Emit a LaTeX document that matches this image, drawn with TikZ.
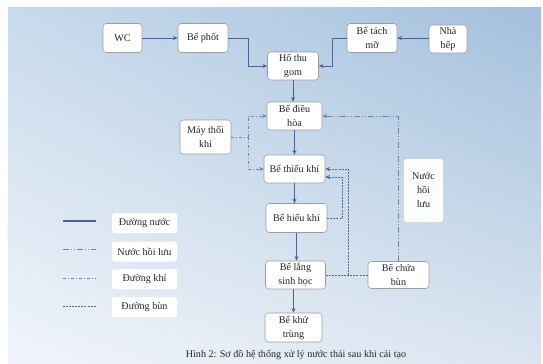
\documentclass[tikz,border=0pt]{standalone}
\usepackage{fontspec}
\setmainfont{Liberation Serif}
\usepackage{tikz}
\usetikzlibrary{arrows.meta,shadings}

\definecolor{flowblue}{HTML}{4D6290}
\definecolor{dashblue}{HTML}{6F82A8}
\definecolor{boxgray}{HTML}{9C9C9C}
\definecolor{bgtl}{HTML}{C8DAEC}
\definecolor{bgtr}{HTML}{A3BFDC}
\definecolor{bgbl}{HTML}{F1F5FA}
\definecolor{bgbr}{HTML}{DAE5F0}

\begin{document}
\begin{tikzpicture}[x=0.75pt,y=-0.75pt, >={Stealth[length=3.5pt,width=3pt]},
    tank/.style={draw=boxgray, fill=white, rounded corners=2.5pt, align=center, inner sep=0pt, text=black!85, font=\fontsize{7.6}{10.5}\selectfont},
    tag/.style={fill=white, rounded corners=2pt, align=center, inner sep=0pt, text=black!85, font=\fontsize{7.6}{10.5}\selectfont},
    water/.style={draw=flowblue, line width=0.6pt},
    ret/.style={draw=dashblue, line width=0.45pt, dash pattern=on 4.5pt off 1.5pt on 0.8pt off 1.5pt on 0.8pt off 1.5pt},
    air/.style={draw=dashblue, line width=0.45pt, dash pattern=on 2.2pt off 1.5pt on 0.8pt off 1.5pt},
    sludge/.style={draw=dashblue!80!black, line width=0.45pt, dash pattern=on 1.5pt off 0.8pt}]
    \useasboundingbox (0,0) rectangle (543,364);
    \shade[upper left=bgtl, upper right=bgtr, lower left=bgbl, lower right=bgbr] (8,7) rectangle (541,364);

    % treatment line
    \node[tank, minimum width=29.25pt, minimum height=21.75pt] (wc) at (122.5,38) {WC};
    \node[tank, minimum width=37.5pt, minimum height=21.75pt] (phot) at (203,38) {Bể phốt};
    \node[tank, minimum width=38.25pt, minimum height=21pt] (hothu) at (293,66) {Hố thu\\gom};
    \node[tank, minimum width=37.5pt, minimum height=21.75pt] (tachmo) at (372,38) {Bể tách\\mỡ};
    \node[tank, minimum width=28.5pt, minimum height=21pt] (nhabep) at (448,39) {Nhà\\bếp};
    \node[tank, minimum width=41.25pt, minimum height=21pt] (dieuhoa) at (294.5,116) {Bể điều\\hòa};
    \node[tank, minimum width=38.25pt, minimum height=25.5pt] (maythoi) at (205.5,137) {Máy thổi\\khí};
    \node[tank, minimum width=45.75pt, minimum height=21pt] (thieukhi) at (294.5,169) {Bể thiếu khí};
    \node[tank, minimum width=45.75pt, minimum height=21.75pt] (hieukhi) at (296.5,218) {Bể hiếu khí};
    \node[tank, minimum width=45pt, minimum height=21pt] (lang) at (295.5,275) {Bể lắng\\sinh học};
    \node[tank, minimum width=42.75pt, minimum height=21.75pt] (khutrung) at (293.5,327.5) {Bể khử\\trùng};
    \node[tank, minimum width=45.75pt, minimum height=20.25pt] (chuabun) at (398.5,275) {Bể chứa\\bùn};
    \node[tag, fill opacity=0.95, text opacity=1, minimum width=29.25pt, minimum height=47.25pt] (hoiluu) at (423.5,190.5) {Nước\\hồi\\lưu};

    % legend
    \node[tag, minimum width=48.75pt, minimum height=15pt] (lgwater) at (144.5,223) {Đường nước};
    \node[tag, minimum width=48.75pt, minimum height=15pt] (lgret) at (144.5,251.5) {Nước hồi lưu};
    \node[tag, minimum width=48.75pt, minimum height=15pt] (lgair) at (144.5,279) {Đường khí};
    \node[tag, minimum width=48.75pt, minimum height=15pt] (lgsludge) at (144.5,307) {Đường bùn};
    \coordinate (lw1) at (63,221);  \coordinate (lw2) at (96,221);
    \coordinate (lr1) at (63,249);  \coordinate (lr2) at (96,249);
    \coordinate (la1) at (63,278);  \coordinate (la2) at (96,278);
    \coordinate (ls1) at (63,306);  \coordinate (ls2) at (96,306);
    \draw[water, line width=0.9pt] (lw1) -- (lw2);
    \draw[ret] (lr1) -- (lr2);
    \draw[air] (la1) -- (la2);
    \draw[sludge] (ls1) -- (ls2);

    \node[font=\fontsize{7.6}{9}\selectfont, text=black!85] (caption) at (296,355) {Hình 2: Sơ đồ hệ thống xử lý nước thải sau khi cải tạo};

    % water
    \draw[water,->] (wc) -- (phot);
    \draw[water,->] (phot.east) -- ++(20,0) |- (hothu.west);
    \draw[water,->] (nhabep.west |- tachmo.east) -- (tachmo.east);
    \draw[water,->] (tachmo.west) -- ++(-14,0) |- (hothu.east);
    \draw[water,->] (hothu.south) -- (hothu.south |- dieuhoa.north);
    \draw[water,->] (dieuhoa.south) -- (dieuhoa.south |- thieukhi.north);
    \draw[water,->] (thieukhi.south) -- (thieukhi.south |- hieukhi.north);
    \draw[water,->] (hieukhi.south) -- (hieukhi.south |- lang.north);
    \draw[water,->] (khutrung.north |- lang.south) -- (khutrung.north);

    % air
    \coordinate (airjoin) at (248,137);
    \draw[air] (maythoi.east) -- (airjoin);
    \draw[air,->] (airjoin) |- (dieuhoa.west);
    \draw[air,->] (airjoin) |- (thieukhi.west);

    % return water
    \draw[ret,->] (chuabun.north) |- (dieuhoa.east);

    % sludge
    \coordinate (sludgejoin) at (348,275);
    \draw[sludge] (lang.east) -- (chuabun.west);
    \draw[sludge,->] (sludgejoin) |- (thieukhi.east);
    \draw[sludge,->] (hieukhi.east) -- ++(15,0) |- ([yshift=-6pt]thieukhi.east);
\end{tikzpicture}
\end{document}
